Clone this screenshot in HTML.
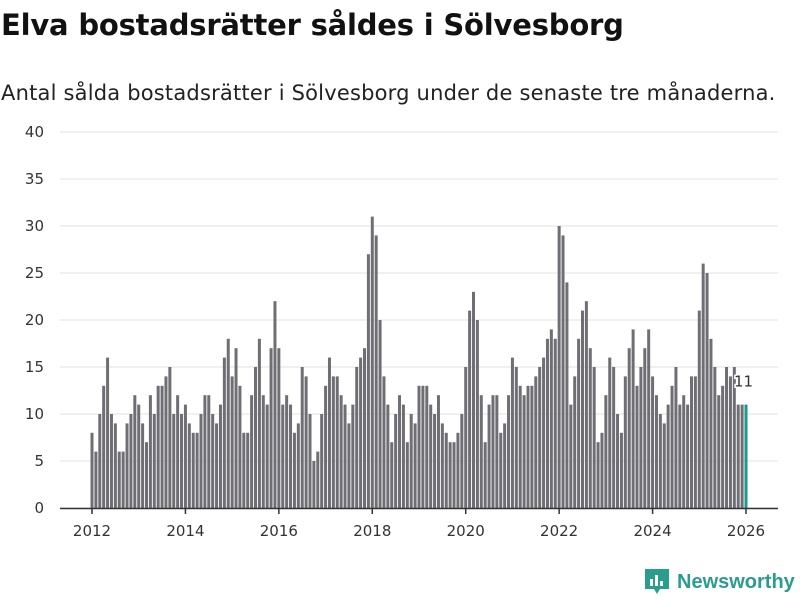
<!DOCTYPE html>
<html><head><meta charset="utf-8"><style>
body{margin:0;width:800px;height:600px;background:#fff;font-family:"DejaVu Sans","Liberation Sans",sans-serif;overflow:hidden;position:relative}
h1{position:absolute;left:1px;top:8px;margin:0;font-size:29px;font-weight:bold;color:#111;letter-spacing:-0.2px;white-space:nowrap}
p{position:absolute;left:1px;top:81px;margin:0;font-size:21px;color:#222;white-space:nowrap;letter-spacing:0.2px}
svg{position:absolute;left:0;top:0}
</style></head><body>
<h1>Elva bostadsrätter såldes i Sölvesborg</h1>
<p>Antal sålda bostadsrätter i Sölvesborg under de senaste tre månaderna.</p>
<svg id="chart" width="800" height="600"></svg>
<script>
const values=[8,6,10,13,16,10,9,6,6,9,10,12,
11,9,7,12,10,13,13,14,15,10,12,10,
11,9,8,8,10,12,12,10,9,11,16,18,
14,17,13,8,8,12,15,18,12,11,17,22,
17,11,12,11,8,9,15,14,10,5,6,10,
13,16,14,14,12,11,9,11,15,16,17,27,
31,29,20,14,11,7,10,12,11,7,10,9,
13,13,13,11,10,12,9,8,7,7,8,10,
15,21,23,20,12,7,11,12,12,8,9,12,
16,15,13,12,13,13,14,15,16,18,19,18,
30,29,24,11,14,18,21,22,17,15,7,8,
12,16,15,10,8,14,17,19,13,15,17,19,
14,12,10,9,11,13,15,11,12,11,14,14,
21,26,25,18,15,12,13,15,14,15,11,11,
11];
const yTicks=[0,5,10,15,20,25,30,35,40];
const xTicks=[2012,2014,2016,2018,2020,2022,2024,2026];
const startYear=2012;
const NS="http://www.w3.org/2000/svg";
const svg=document.getElementById('chart');
const y=v=>508-v*9.4;
const x=i=>92+i*(654/168);
function mk(t,a){const e=document.createElementNS(NS,t);for(const k in a)e.setAttribute(k,a[k]);svg.appendChild(e);return e;}
yTicks.forEach(t=>{
  const g=mk('line',{x1:60,x2:778,y1:y(t),y2:y(t),stroke:'#e2e2e2','stroke-width':1});
  
  
  const l=mk('text',{x:44,y:y(t)+5,'text-anchor':'end','font-size':15,fill:'#333'});
  l.textContent=t;
  
  
});
values.forEach((v,i)=>{
  const last=i===values.length-1;
  const b=mk('rect',{x:x(i)-1.5,y:y(v),width:3,height:508-y(v),fill:last?'#1a9a8c':'#6f6e74'});
  
  
});
const lv=values[values.length-1];
const vl=mk('text',{x:x(values.length-1)-12,y:y(lv)-18,'font-size':15,fill:'#333',stroke:'#fff','stroke-width':3,'paint-order':'stroke'});
vl.textContent=lv;


const ax=mk('line',{x1:60,x2:778,y1:508.5,y2:508.5,stroke:'#333','stroke-width':1.5});


xTicks.forEach(t=>{
  const px=x((t-startYear)*12);
  const tk=mk('line',{x1:px,x2:px,y1:508,y2:514,stroke:'#333','stroke-width':1.5});
  
  
  const l=mk('text',{x:px,y:536,'text-anchor':'middle','font-size':15,fill:'#333'});
  l.textContent=t;
  
  
});
</script>
<div style="position:absolute;left:645px;top:569px;display:flex;align-items:center">
<svg width="24" height="26" style="position:static"><path d="M0 0h24v20h-9l-3 5-3-5H0z" fill="#2a9d8f"/><rect x="5" y="10" width="3" height="7" fill="#fff"/><rect x="10" y="6" width="3" height="11" fill="#fff"/><rect x="15" y="12" width="3" height="5" fill="#fff"/></svg>
<span style="margin-left:8px;font-family:'Liberation Sans',sans-serif;font-size:20px;font-weight:bold;color:#2a9d8f">Newsworthy</span></div>
</body></html>
